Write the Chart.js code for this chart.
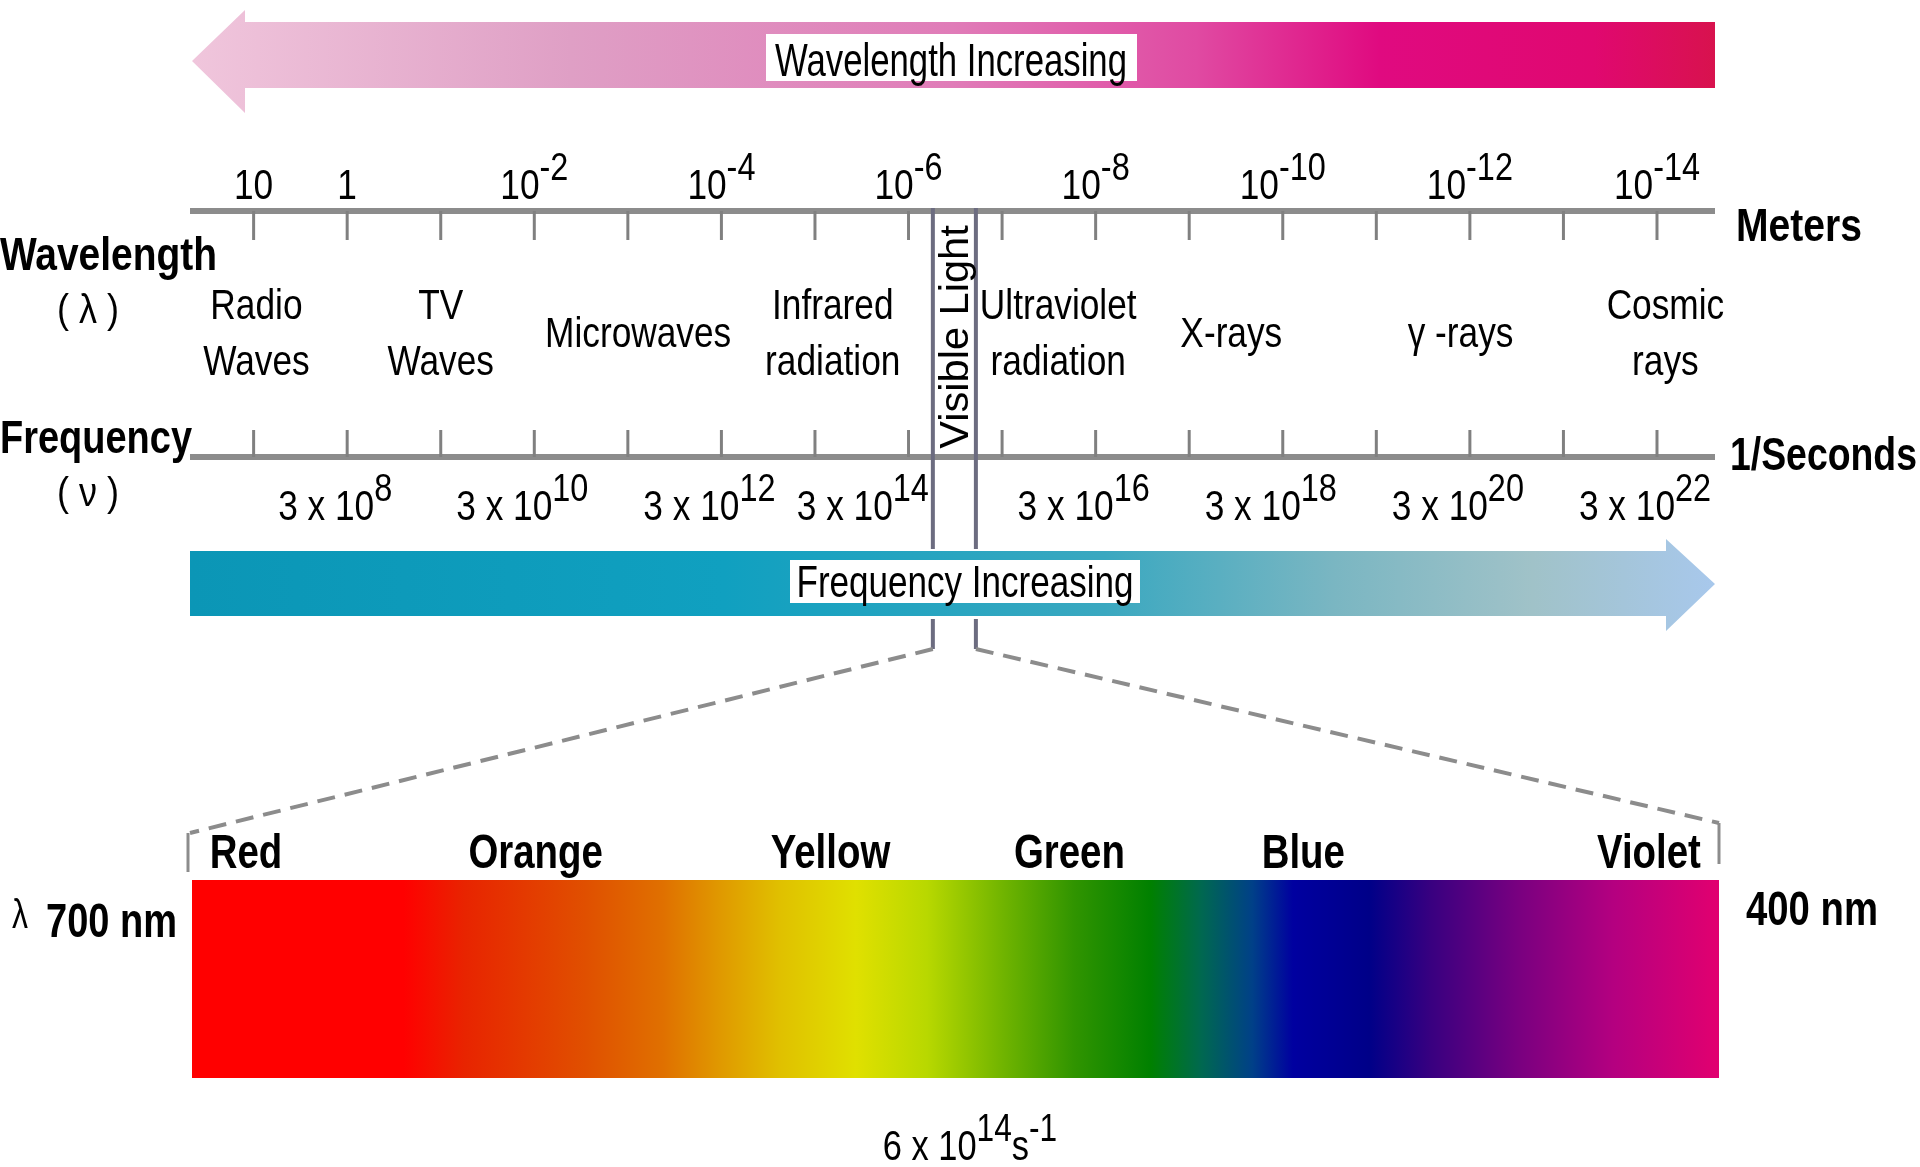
<!DOCTYPE html>
<html>
<head>
<meta charset="utf-8">
<title>Electromagnetic spectrum</title>
<script src="https://cdn.jsdelivr.net/npm/chart.js@4.4.0/dist/chart.umd.min.js"></script>
<style>
  html, body { margin: 0; padding: 0; background: #fff; }
  #wrap { width: 1920px; height: 1167px; }
</style>
</head>
<body>
<div id="wrap"><canvas id="chart" width="1920" height="1167"></canvas></div>
<script>
// x value = -log10(wavelength in metres), so it grows to the right like the picture
const wavelengthTicks = [-1, 0, 1, 2, 3, 4, 5, 6, 7, 8, 9, 10, 11, 12, 13, 14];
const wavelengthLabelAt = [-1, 0, 2, 4, 6, 8, 10, 12, 14];
const wavelengthLabels = ['10', '1', '10^-2', '10^-4', '10^-6', '10^-8', '10^-10', '10^-12', '10^-14'];
const frequencyLabelAt = [0, 2, 4, 6, 8, 10, 12, 14];
const frequencyLabels = ['3 x 10^8', '3 x 10^10', '3 x 10^12', '3 x 10^14', '3 x 10^16', '3 x 10^18', '3 x 10^20', '3 x 10^22'];

const regionNames = [['Radio', 'Waves'], ['TV', 'Waves'], ['Microwaves'], ['Infrared', 'radiation'],
                     ['Ultraviolet', 'radiation'], ['X-rays'], ['\u03b3 -rays'], ['Cosmic', 'rays']];
const regionCenters = [-0.97, 1.0, 3.11, 5.19, 7.6, 9.45, 11.9, 14.09];
const visibleBand = [6.26, 6.72];

// visible spectrum, nm
const spectrumNm = [700, 658, 646, 622, 607, 596, 584, 569, 555, 540, 526, 511, 501, 491, 483, 468, 456, 439, 420, 400];
const spectrumColors = ['#ff0000', '#ff0000', '#e82400', '#e05000', '#e07000', '#e09800', '#e0c000', '#e0e000',
                        '#b8d800', '#70b400', '#309400', '#008000', '#006850', '#004088', '#0000a0', '#000088',
                        '#380080', '#780080', '#b40080', '#e00070'];
const colorNames = ['Red', 'Orange', 'Yellow', 'Green', 'Blue', 'Violet'];
const colorCenters = [689, 632, 574, 527, 481, 413];

const FONT = '"Liberation Sans", Arial, sans-serif';

function txt(ctx, s, x, y, size, opts) {
    opts = opts || {};
    const sq = opts.squeeze || 0.82;
    ctx.save();
    ctx.font = (opts.bold ? 'bold ' : '') + size + 'px ' + FONT;
    ctx.fillStyle = '#000';
    ctx.textBaseline = 'alphabetic';
    ctx.textAlign = 'left';
    let w = ctx.measureText(s).width * sq;
    let k = sq;
    if (opts.width) { k = sq * opts.width / w; w = opts.width; }
    const left = opts.align === 'left' ? x : opts.align === 'right' ? x - w : x - w / 2;
    ctx.translate(left, y);
    ctx.scale(k, 1);
    ctx.fillText(s, 0, 0);
    ctx.restore();
    return w;
}

// "3 x 10^8" -> base text with raised exponent parts
function splitSup(s) {
    return s.split(/(\^-?\d+)/).filter(p => p.length).map(p =>
        p[0] === '^' ? { t: p.slice(1), sup: true } : { t: p, sup: false });
}

function supWidth(ctx, parts, size) {
    let w = 0;
    parts.forEach(p => {
        ctx.font = (p.sup ? size * 0.92 : size) + 'px ' + FONT;
        w += ctx.measureText(p.t).width * 0.82;
    });
    return w;
}

function drawSup(ctx, s, cx, base, size, maxRight) {
    const parts = splitSup(s);
    const w = supWidth(ctx, parts, size);
    let left = cx - w / 2;
    if (maxRight !== undefined && left + w > maxRight) left = maxRight - w;
    parts.forEach(p => {
        const sz = p.sup ? size * 0.92 : size;
        left += txt(ctx, p.t, left, p.sup ? base - size * 0.45 : base, sz, { align: 'left' });
    });
}

function arrow(ctx, pts, fill) {
    ctx.beginPath();
    ctx.moveTo(pts[0][0], pts[0][1]);
    pts.slice(1).forEach(p => ctx.lineTo(p[0], p[1]));
    ctx.closePath();
    ctx.fillStyle = fill;
    ctx.fill();
}

const artPlugin = {
    id: 'spectrumArt',
    afterDraw(chart) {
        const ctx = chart.ctx;
        const x = chart.scales.x;
        const nm = chart.scales.x2;
        const L = chart.chartArea.left, R = chart.chartArea.right;
        ctx.save();

        // ---- wavelength increasing arrow (points left)
        let g = ctx.createLinearGradient(L, 0, R, 0);
        g.addColorStop(0, '#f0c6dc');
        g.addColorStop(0.25, '#df9fc5');
        g.addColorStop(0.5, '#e07cb8');
        g.addColorStop(0.66, '#e04aa2');
        g.addColorStop(0.78, '#e00a80');
        g.addColorStop(0.92, '#e00870');
        g.addColorStop(1, '#d8124e');
        arrow(ctx, [[L + 2, 61], [L + 55, 10], [L + 55, 22], [R, 22], [R, 88], [L + 55, 88], [L + 55, 113]], g);
        ctx.fillStyle = '#fff';
        ctx.fillRect(766, 34, 371, 47);
        txt(ctx, 'Wavelength Increasing', 951, 76, 46, { width: 352 });

        // ---- wavelength axis
        ctx.strokeStyle = '#8c8c8c';
        ctx.lineWidth = 6;
        ctx.beginPath(); ctx.moveTo(L, 211); ctx.lineTo(R, 211); ctx.stroke();
        ctx.beginPath(); ctx.moveTo(L, 457); ctx.lineTo(R, 457); ctx.stroke();
        ctx.lineWidth = 3;
        ctx.strokeStyle = '#808080';
        wavelengthTicks.forEach(v => {
            const px = x.getPixelForValue(v);
            ctx.beginPath(); ctx.moveTo(px, 211); ctx.lineTo(px, 240); ctx.stroke();
            ctx.beginPath(); ctx.moveTo(px, 457); ctx.lineTo(px, 430); ctx.stroke();
        });
        wavelengthLabels.forEach((s, i) => drawSup(ctx, s, x.getPixelForValue(wavelengthLabelAt[i]), 199, 43));

        // ---- visible light band
        const b0 = x.getPixelForValue(visibleBand[0]);
        const b1 = x.getPixelForValue(visibleBand[1]);
        ctx.fillStyle = '#fff';
        ctx.fillRect(b0, 214, b1 - b0, 240);
        ctx.strokeStyle = '#6c6c80';
        ctx.lineWidth = 4;
        [b0, b1].forEach(px => {
            ctx.beginPath(); ctx.moveTo(px, 208); ctx.lineTo(px, 549); ctx.stroke();
            ctx.beginPath(); ctx.moveTo(px, 619); ctx.lineTo(px, 649); ctx.stroke();
        });
        ctx.save();
        ctx.translate((b0 + b1) / 2 + 14, 337);
        ctx.rotate(-Math.PI / 2);
        txt(ctx, 'Visible Light', 0, 0, 40, { squeeze: 1.04 });
        ctx.restore();

        // ---- frequency labels (the one just left of the band is pushed clear of it)
        frequencyLabels.forEach((s, i) => {
            const v = frequencyLabelAt[i];
            drawSup(ctx, s, x.getPixelForValue(v) - 12, 520, 43, v <= visibleBand[0] ? b0 - 4 : undefined);
        });

        // ---- region names
        regionNames.forEach((lines, i) => {
            const cx = x.getPixelForValue(regionCenters[i]);
            if (lines.length === 1) {
                txt(ctx, lines[0], cx, 347, 43);
            } else {
                txt(ctx, lines[0], cx, 319, 43);
                txt(ctx, lines[1], cx, 375, 43);
            }
        });

        // ---- axis titles
        txt(ctx, 'Wavelength', 0, 270, 46, { bold: true, align: 'left', width: 217 });
        txt(ctx, '( \u03bb )', 88, 323, 40, { squeeze: 0.9 });
        txt(ctx, 'Frequency', 0, 453, 46, { bold: true, align: 'left', width: 192 });
        txt(ctx, '( \u03bd )', 88, 506, 40, { squeeze: 0.9 });
        txt(ctx, 'Meters', 1736, 241, 46, { bold: true, align: 'left', width: 126 });
        txt(ctx, '1/Seconds', 1730, 470, 46, { bold: true, align: 'left', width: 187 });

        // ---- frequency increasing arrow (points right)
        g = ctx.createLinearGradient(L, 0, R, 0);
        g.addColorStop(0, '#0b96b6');
        g.addColorStop(0.35, '#10a0c0');
        g.addColorStop(0.6, '#3aa8c0');
        g.addColorStop(0.75, '#7ab6c2');
        g.addColorStop(0.88, '#a0c2c8');
        g.addColorStop(1, '#a8c8ec');
        arrow(ctx, [[L, 551], [R - 49, 551], [R - 49, 539], [R, 584], [R - 49, 631], [R - 49, 616], [L, 616]], g);
        ctx.fillStyle = '#fff';
        ctx.fillRect(790, 560, 350, 43);
        txt(ctx, 'Frequency Increasing', 965, 597, 44, { width: 337 });

        // ---- dashed zoom lines to the visible spectrum
        const s0 = nm.getPixelForValue(700);
        const s1 = nm.getPixelForValue(400);
        ctx.strokeStyle = '#8c8c8c';
        ctx.lineWidth = 4;
        ctx.setLineDash([18, 10]);
        ctx.beginPath(); ctx.moveTo(b0, 649); ctx.lineTo(s0, 833); ctx.stroke();
        ctx.beginPath(); ctx.moveTo(b1, 649); ctx.lineTo(s1 + 4, 823); ctx.stroke();
        ctx.setLineDash([]);
        ctx.lineWidth = 3;
        ctx.beginPath(); ctx.moveTo(s0 - 2, 833); ctx.lineTo(s0 - 2, 872); ctx.stroke();
        ctx.beginPath(); ctx.moveTo(s1 + 4, 823); ctx.lineTo(s1 + 4, 864); ctx.stroke();

        // ---- visible spectrum bar
        g = ctx.createLinearGradient(s0, 0, s1, 0);
        spectrumNm.forEach((w, i) => g.addColorStop((nm.getPixelForValue(w) - s0) / (s1 - s0), spectrumColors[i]));
        ctx.fillStyle = g;
        ctx.fillRect(s0 + 2, 880, s1 - s0 + 2, 198);

        colorNames.forEach((c, i) => txt(ctx, c, nm.getPixelForValue(colorCenters[i]), 868, 48, { bold: true, squeeze: 0.8 }));
        txt(ctx, '\u03bb', 12, 928, 40, { align: 'left', squeeze: 0.8 });
        txt(ctx, '700 nm', 46, 937, 48, { bold: true, align: 'left', width: 131 });
        txt(ctx, '400 nm', 1746, 925, 48, { bold: true, align: 'left', width: 132 });
        drawSup(ctx, '6 x 10^14s^-1', 970, 1160, 42);

        ctx.restore();
    }
};

const chart = new Chart(document.getElementById('chart'), {
    type: 'scatter',
    data: { datasets: [] },
    options: {
        responsive: false,
        animation: false,
        devicePixelRatio: 1,
        layout: { padding: { left: 190, right: 205, top: 0, bottom: 0 } },
        plugins: { legend: { display: false }, tooltip: { enabled: false } },
        scales: {
            x: { type: 'linear', min: -1.68, max: 14.62, display: false },
            x2: { type: 'linear', axis: 'x', min: 400, max: 700, reverse: true, display: false },
            y: { type: 'linear', min: 0, max: 1, display: false }
        }
    },
    plugins: [artPlugin]
});
</script>
</body>
</html>
